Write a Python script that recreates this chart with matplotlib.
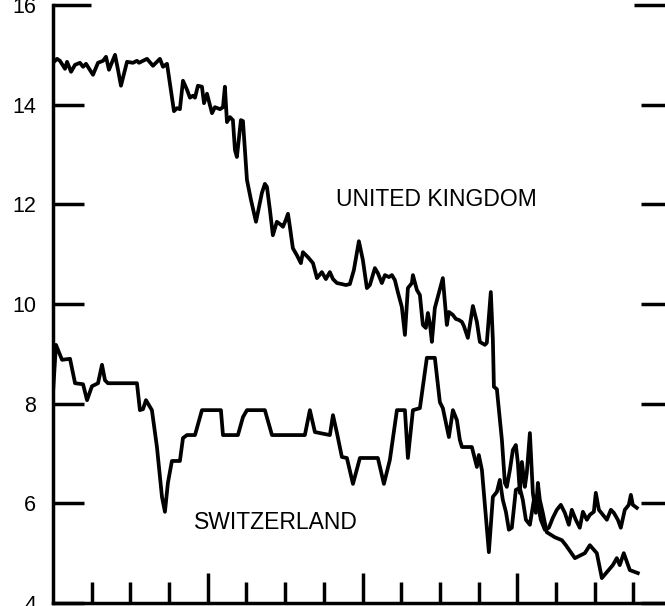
import matplotlib
matplotlib.use("Agg")
import matplotlib.pyplot as plt

# months from start of period
uk_months = [0, 0.31, 0.54, 0.93, 1.09, 1.40, 1.71, 2.09, 2.33, 2.56, 3.10, 3.49, 3.88, 4.11, 4.34,
             4.81, 5.04, 5.27, 5.74, 6.20, 6.51, 6.67, 7.29, 7.75, 8.29, 8.53, 8.84, 8.91, 9.38, 9.61,
             9.84, 10.08, 10.39, 10.62, 10.85, 11.01, 11.24, 11.55, 11.71, 11.94, 12.33, 12.56, 12.95,
             13.18, 13.33, 13.49, 13.72, 13.95, 14.11, 14.26, 14.57, 14.73, 15.04, 15.35, 15.74, 16.20,
             16.43, 16.59, 16.82, 17.05, 17.36, 17.67, 17.83, 18.06, 18.22, 18.37, 18.60, 18.91, 19.22,
             19.38, 19.77, 20.16, 20.47, 20.85, 21.16, 21.47, 21.71, 22.02, 22.40, 22.71, 23.02, 23.33,
             23.72, 24.03, 24.34, 24.57, 24.96, 25.19, 25.50, 25.74, 26.05, 26.28, 26.51, 26.74, 27.05,
             27.29, 27.52, 27.83, 27.91, 28.22, 28.45, 28.68, 28.91, 29.07, 29.22, 29.38, 29.61, 29.84,
             30.23, 30.54, 30.70, 31.01, 31.24, 31.47, 31.71, 31.86, 32.17, 32.56, 32.87, 33.10, 33.49,
             33.64, 33.95, 34.11, 34.19, 34.42, 34.81, 35.04, 35.19, 35.43, 35.66, 35.89, 36.05, 36.20,
             36.36, 36.59, 36.74, 36.98, 37.21, 37.44, 37.60, 37.75, 37.98, 38.29, 38.91, 39.46, 39.77,
             40.47, 41.24, 41.63, 42.17, 42.56, 42.95, 43.41, 43.72, 43.95, 44.26, 44.73, 45.35]
uk_values = [14.84, 14.92, 14.88, 14.72, 14.86, 14.66, 14.80, 14.84, 14.76, 14.82, 14.60, 14.84, 14.88,
             14.96, 14.70, 15.00, 14.70, 14.38, 14.86, 14.84, 14.88, 14.84, 14.92, 14.78, 14.92, 14.76,
             14.82, 14.70, 13.87, 13.93, 13.91, 14.48, 14.30, 14.14, 14.18, 14.14, 14.38, 14.36, 14.03,
             14.22, 13.83, 13.95, 13.91, 13.95, 14.36, 13.65, 13.75, 13.69, 13.09, 12.95, 13.69, 13.67,
             12.49, 12.09, 11.65, 12.23, 12.41, 12.35, 11.89, 11.38, 11.65, 11.59, 11.55, 11.69, 11.81,
             11.55, 11.12, 10.98, 10.82, 11.04, 10.94, 10.82, 10.52, 10.64, 10.50, 10.64, 10.50, 10.42,
             10.40, 10.38, 10.40, 10.68, 11.26, 10.88, 10.32, 10.38, 10.72, 10.62, 10.42, 10.58, 10.54,
             10.58, 10.48, 10.24, 9.94, 9.38, 10.32, 10.42, 10.58, 10.28, 10.18, 9.58, 9.52, 9.82, 9.62,
             9.24, 9.92, 10.14, 10.52, 9.58, 9.84, 9.78, 9.70, 9.68, 9.64, 9.56, 9.32, 9.96, 9.64, 9.24,
             9.18, 9.22, 10.24, 9.28, 8.34, 8.29, 7.27, 6.41, 6.33, 6.67, 7.07, 7.17, 6.81, 6.21, 6.83,
             6.33, 6.61, 7.41, 6.21, 5.81, 6.41, 6.07, 5.81, 5.42, 5.32, 5.26, 5.16, 4.90, 5.00, 5.16,
             5.00, 4.50, 4.62, 4.76, 4.90, 4.76, 5.00, 4.66, 4.60]

ch_months = [0, 0.23, 0.70, 1.32, 1.71, 2.33, 2.64, 3.02, 3.49, 3.80, 4.03, 4.26, 6.51, 6.74, 6.98,
             7.21, 7.67, 8.06, 8.45, 8.68, 8.91, 9.22, 9.84, 10.08, 10.39, 11.01, 11.55, 13.02, 13.18,
             14.34, 14.73, 15.04, 16.43, 16.98, 19.53, 19.92, 20.31, 21.47, 21.71, 22.02, 22.40, 22.79,
             23.26, 23.80, 25.19, 25.66, 26.12, 26.67, 27.29, 27.52, 27.91, 28.45, 28.99, 29.61, 30.00,
             30.23, 30.70, 31.01, 31.32, 31.55, 31.71, 32.48, 32.87, 33.02, 33.26, 33.80, 34.11, 34.42,
             34.65, 34.88, 35.12, 35.35, 35.58, 35.89, 36.20, 36.43, 36.67, 36.98, 37.29, 37.60, 37.83,
             38.14, 38.45, 38.76, 39.07, 39.38, 39.69, 40.00, 40.23, 40.54, 40.85, 41.09, 41.40, 41.63,
             41.94, 42.09, 42.33, 42.64, 42.95, 43.26, 43.49, 43.80, 44.03, 44.34, 44.65, 44.81, 44.96,
             45.27]
ch_values = [8.21, 9.18, 8.88, 8.90, 8.41, 8.39, 8.07, 8.35, 8.41, 8.78, 8.47, 8.41, 8.41, 7.87, 7.89,
             8.07, 7.87, 7.13, 6.13, 5.83, 6.41, 6.85, 6.85, 7.31, 7.37, 7.37, 7.87, 7.87, 7.37, 7.37,
             7.73, 7.87, 7.87, 7.37, 7.37, 7.87, 7.43, 7.37, 7.77, 7.41, 6.93, 6.91, 6.39, 6.91, 6.91,
             6.39, 6.87, 7.87, 7.87, 6.91, 7.87, 7.91, 8.92, 8.92, 8.03, 7.91, 7.33, 7.87, 7.67, 7.27,
             7.13, 7.13, 6.73, 6.97, 6.67, 5.02, 6.13, 6.23, 6.47, 6.07, 5.83, 5.47, 5.51, 6.27, 6.31,
             6.07, 5.67, 5.57, 6.07, 5.97, 5.67, 5.47, 5.51, 5.71, 5.87, 5.97, 5.81, 5.57, 5.87, 5.67,
             5.51, 5.83, 5.67, 5.77, 5.83, 6.21, 5.87, 5.77, 5.67, 5.87, 5.81, 5.67, 5.51, 5.87, 5.97,
             6.17, 5.97, 5.91]

y_ticks = [4, 6, 8, 10, 12, 14]
y_top_tick = [16]
x_major_ticks = [12, 24, 36]
x_minor_ticks = [3, 6, 9, 15, 18, 21, 27, 30, 33, 39, 42, 45]
labels = {"uk": "UNITED KINGDOM", "ch": "SWITZERLAND"}

plt.rcParams['font.family'] = ['Liberation Sans', 'DejaVu Sans']

fig = plt.figure(figsize=(6.65, 6.06), dpi=100)
ax = fig.add_axes([53 / 665, 3 / 606, 619 / 665, 598 / 606])

ax.plot(uk_months, uk_values, color='black', lw=2.7, solid_joinstyle='round')
ax.plot(ch_months, ch_values, color='black', lw=2.7, solid_joinstyle='round')

ax.set_xlim(0, 48)
ax.set_ylim(4, 16)

ax.spines['top'].set_visible(False)
ax.spines['right'].set_visible(False)
for s in ('left', 'bottom'):
    ax.spines[s].set_linewidth(2.5)

ax.set_yticks(y_ticks)
ax.set_yticklabels([str(v) for v in y_ticks])
ax.set_yticks(y_top_tick, minor=True)
ax.set_yticklabels([str(v) for v in y_top_tick], minor=True)
ax.set_xticks(x_major_ticks)
ax.set_xticklabels([])
ax.set_xticks(x_minor_ticks, minor=True)
ax.set_xticklabels([], minor=True)

ax.tick_params(axis='y', which='major', direction='in', length=22, width=2.5,
               left=True, right=True, labelsize=15.5, pad=12)
ax.tick_params(axis='y', which='minor', direction='in', length=27.5, width=2.5,
               left=True, right=True, labelsize=15.5, pad=12)
ax.tick_params(axis='x', which='major', direction='in', length=21.5, width=2.5, top=False)
ax.tick_params(axis='x', which='minor', direction='in', length=15, width=2.5, top=False)

ax.text(21.94, 11.97, labels["uk"], fontsize=16.5, va='baseline', ha='left')
ax.text(10.93, 5.49, labels["ch"], fontsize=16.5, va='baseline', ha='left')

fig.savefig('out.png', dpi=100)
